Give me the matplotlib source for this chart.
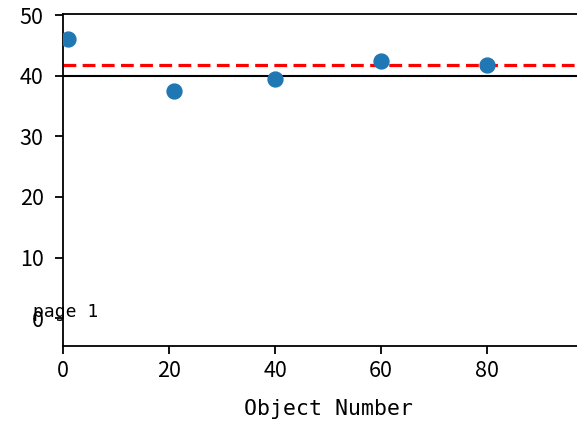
import matplotlib
matplotlib.use("Agg")
import matplotlib.pyplot as plt

obj_number = [1, 21, 40, 60, 80]
values = [46.0, 37.5, 39.5, 42.4, 41.8]
ref_value = 40
mean_line = 41.8
xlabel = "Object Number"
page_text = "page 1"

plt.rcParams['font.family'] = ['Noto Sans CJK SC', 'DejaVu Sans']

fig = plt.figure(figsize=(5.77, 4.21), dpi=100)
ax = fig.add_axes([63/577, 1 - 346/421, 530/577, (346-14)/421])
ax.scatter(obj_number, values, s=115, color='#1f77b4', zorder=3)
ax.axhline(ref_value, color='black', lw=1.5)
ax.axhline(mean_line, color='red', ls='--', lw=2.3, dashes=(4, 2))
ax.set_xlim(0, 100)
ax.set_ylim(-4.6, 50.2)
ax.set_xticks([0, 20, 40, 60, 80])
ax.set_yticks([0, 10, 20, 30, 40, 50])
ax.tick_params(labelsize=15.5, length=6, width=1.3, pad=4)
ax.tick_params(axis='y', pad=8)
ax.set_xlabel(xlabel, fontsize=15.5, family=['DejaVu Sans Mono'], labelpad=12)
ax.text(-5.7, 1.0, page_text, fontsize=13, family=['DejaVu Sans Mono'], va='center', ha='left')
for s in ax.spines.values():
    s.set_linewidth(1.3)

fig.savefig("out.png", dpi=100)
